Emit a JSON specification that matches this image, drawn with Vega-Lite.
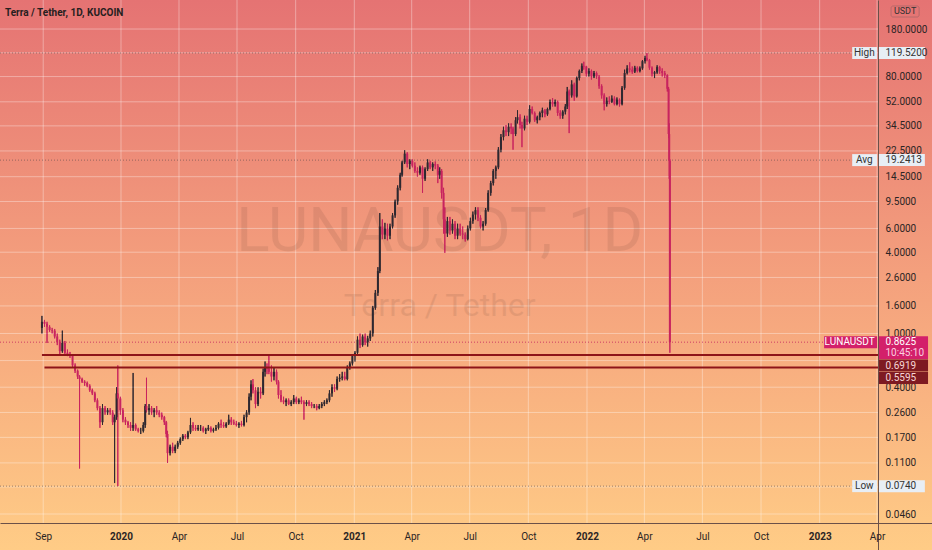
{
"$schema": "https://vega.github.io/schema/vega-lite/v6.json",
"width": 932, "height": 550, "autosize": {"type": "none"}, "padding": 0,
"background": "#f5a57e",
"view": {"stroke": null, "fill": {"gradient": "linear", "x1": 0, "y1": 0, "x2": 0, "y2": 1, "stops": [{"offset": 0, "color": "#e57373"}, {"offset": 0.5, "color": "#f4a07d"}, {"offset": 1, "color": "#ffcc86"}]}},
"config": {"font": "Roboto", "text": {"font": "Roboto"}},
"datasets": {
"candles": [
{"d":"2019-08-30","o":1.10,"h":1.35,"l":1.00,"c":1.22},
{"d":"2019-09-03","o":1.22,"h":1.26,"l":1.12,"c":1.18},
{"d":"2019-09-07","o":1.18,"h":1.22,"l":0.85,"c":1.12},
{"d":"2019-09-11","o":1.12,"h":1.15,"l":1.03,"c":1.06},
{"d":"2019-09-15","o":1.06,"h":1.10,"l":1.00,"c":1.05},
{"d":"2019-09-19","o":1.05,"h":1.08,"l":0.92,"c":0.95},
{"d":"2019-09-23","o":0.95,"h":1.00,"l":0.82,"c":0.86},
{"d":"2019-09-27","o":0.86,"h":0.90,"l":0.70,"c":0.74},
{"d":"2019-10-01","o":0.74,"h":1.05,"l":0.72,"c":0.85},
{"d":"2019-10-05","o":0.85,"h":0.88,"l":0.70,"c":0.72},
{"d":"2019-10-09","o":0.72,"h":0.76,"l":0.68,"c":0.70},
{"d":"2019-10-13","o":0.70,"h":0.73,"l":0.66,"c":0.69},
{"d":"2019-10-17","o":0.69,"h":0.70,"l":0.56,"c":0.58},
{"d":"2019-10-21","o":0.58,"h":0.60,"l":0.51,"c":0.53},
{"d":"2019-10-25","o":0.53,"h":0.54,"l":0.46,"c":0.48},
{"d":"2019-10-28","o":0.48,"h":0.49,"l":0.10,"c":0.46},
{"d":"2019-11-01","o":0.46,"h":0.47,"l":0.43,"c":0.44},
{"d":"2019-11-05","o":0.44,"h":0.45,"l":0.41,"c":0.43},
{"d":"2019-11-09","o":0.43,"h":0.44,"l":0.40,"c":0.41},
{"d":"2019-11-13","o":0.41,"h":0.42,"l":0.37,"c":0.38},
{"d":"2019-11-17","o":0.38,"h":0.39,"l":0.35,"c":0.36},
{"d":"2019-11-21","o":0.36,"h":0.37,"l":0.31,"c":0.32},
{"d":"2019-11-25","o":0.32,"h":0.33,"l":0.27,"c":0.28},
{"d":"2019-11-29","o":0.28,"h":0.29,"l":0.20,"c":0.22},
{"d":"2019-12-03","o":0.22,"h":0.30,"l":0.21,"c":0.28},
{"d":"2019-12-07","o":0.28,"h":0.29,"l":0.25,"c":0.26},
{"d":"2019-12-11","o":0.26,"h":0.28,"l":0.25,"c":0.27},
{"d":"2019-12-15","o":0.27,"h":0.28,"l":0.25,"c":0.26},
{"d":"2019-12-19","o":0.26,"h":0.27,"l":0.21,"c":0.22},
{"d":"2019-12-22","o":0.22,"h":0.25,"l":0.078,"c":0.24},
{"d":"2019-12-25","o":0.24,"h":0.40,"l":0.23,"c":0.36},
{"d":"2019-12-27","o":0.36,"h":0.58,"l":0.074,"c":0.33},
{"d":"2019-12-31","o":0.33,"h":0.34,"l":0.25,"c":0.27},
{"d":"2020-01-04","o":0.27,"h":0.28,"l":0.22,"c":0.23},
{"d":"2020-01-08","o":0.23,"h":0.24,"l":0.21,"c":0.22},
{"d":"2020-01-12","o":0.22,"h":0.225,"l":0.20,"c":0.21},
{"d":"2020-01-16","o":0.21,"h":0.22,"l":0.19,"c":0.20},
{"d":"2020-01-20","o":0.20,"h":0.51,"l":0.19,"c":0.21},
{"d":"2020-01-24","o":0.21,"h":0.215,"l":0.19,"c":0.195},
{"d":"2020-01-28","o":0.195,"h":0.20,"l":0.185,"c":0.19},
{"d":"2020-02-01","o":0.19,"h":0.20,"l":0.18,"c":0.19},
{"d":"2020-02-05","o":0.19,"h":0.22,"l":0.185,"c":0.21},
{"d":"2020-02-08","o":0.21,"h":0.30,"l":0.20,"c":0.29},
{"d":"2020-02-10","o":0.29,"h":0.47,"l":0.26,"c":0.27},
{"d":"2020-02-14","o":0.27,"h":0.30,"l":0.25,"c":0.28},
{"d":"2020-02-18","o":0.28,"h":0.29,"l":0.25,"c":0.26},
{"d":"2020-02-22","o":0.26,"h":0.28,"l":0.24,"c":0.27},
{"d":"2020-02-26","o":0.27,"h":0.29,"l":0.25,"c":0.26},
{"d":"2020-03-01","o":0.26,"h":0.27,"l":0.24,"c":0.25},
{"d":"2020-03-05","o":0.25,"h":0.26,"l":0.23,"c":0.24},
{"d":"2020-03-09","o":0.24,"h":0.245,"l":0.21,"c":0.22},
{"d":"2020-03-12","o":0.22,"h":0.225,"l":0.17,"c":0.18},
{"d":"2020-03-14","o":0.18,"h":0.19,"l":0.11,"c":0.13},
{"d":"2020-03-18","o":0.13,"h":0.15,"l":0.125,"c":0.145},
{"d":"2020-03-22","o":0.145,"h":0.155,"l":0.13,"c":0.135},
{"d":"2020-03-26","o":0.135,"h":0.15,"l":0.13,"c":0.145},
{"d":"2020-03-30","o":0.145,"h":0.16,"l":0.14,"c":0.155},
{"d":"2020-04-03","o":0.155,"h":0.17,"l":0.15,"c":0.165},
{"d":"2020-04-07","o":0.165,"h":0.18,"l":0.16,"c":0.175},
{"d":"2020-04-11","o":0.175,"h":0.18,"l":0.165,"c":0.17},
{"d":"2020-04-15","o":0.17,"h":0.19,"l":0.165,"c":0.185},
{"d":"2020-04-19","o":0.185,"h":0.237,"l":0.18,"c":0.21},
{"d":"2020-04-23","o":0.21,"h":0.22,"l":0.19,"c":0.20},
{"d":"2020-04-27","o":0.20,"h":0.21,"l":0.19,"c":0.195},
{"d":"2020-05-01","o":0.195,"h":0.21,"l":0.19,"c":0.20},
{"d":"2020-05-05","o":0.20,"h":0.21,"l":0.19,"c":0.20},
{"d":"2020-05-09","o":0.20,"h":0.205,"l":0.185,"c":0.19},
{"d":"2020-05-13","o":0.19,"h":0.20,"l":0.18,"c":0.195},
{"d":"2020-05-17","o":0.195,"h":0.21,"l":0.19,"c":0.20},
{"d":"2020-05-21","o":0.20,"h":0.205,"l":0.185,"c":0.19},
{"d":"2020-05-25","o":0.19,"h":0.20,"l":0.185,"c":0.195},
{"d":"2020-05-29","o":0.195,"h":0.21,"l":0.19,"c":0.20},
{"d":"2020-06-02","o":0.20,"h":0.22,"l":0.195,"c":0.215},
{"d":"2020-06-06","o":0.215,"h":0.23,"l":0.20,"c":0.21},
{"d":"2020-06-10","o":0.21,"h":0.22,"l":0.20,"c":0.205},
{"d":"2020-06-14","o":0.205,"h":0.22,"l":0.20,"c":0.215},
{"d":"2020-06-18","o":0.215,"h":0.25,"l":0.21,"c":0.23},
{"d":"2020-06-22","o":0.23,"h":0.24,"l":0.21,"c":0.22},
{"d":"2020-06-26","o":0.22,"h":0.23,"l":0.21,"c":0.215},
{"d":"2020-06-30","o":0.215,"h":0.225,"l":0.205,"c":0.21},
{"d":"2020-07-04","o":0.21,"h":0.22,"l":0.20,"c":0.215},
{"d":"2020-07-08","o":0.215,"h":0.225,"l":0.205,"c":0.21},
{"d":"2020-07-12","o":0.21,"h":0.25,"l":0.205,"c":0.24},
{"d":"2020-07-16","o":0.24,"h":0.27,"l":0.22,"c":0.26},
{"d":"2020-07-20","o":0.26,"h":0.36,"l":0.25,"c":0.34},
{"d":"2020-07-23","o":0.34,"h":0.45,"l":0.32,"c":0.42},
{"d":"2020-07-26","o":0.42,"h":0.46,"l":0.36,"c":0.38},
{"d":"2020-07-30","o":0.38,"h":0.40,"l":0.28,"c":0.30},
{"d":"2020-08-03","o":0.30,"h":0.40,"l":0.29,"c":0.37},
{"d":"2020-08-07","o":0.37,"h":0.40,"l":0.33,"c":0.36},
{"d":"2020-08-11","o":0.36,"h":0.55,"l":0.35,"c":0.52},
{"d":"2020-08-14","o":0.52,"h":0.62,"l":0.48,"c":0.56},
{"d":"2020-08-17","o":0.56,"h":0.60,"l":0.50,"c":0.55},
{"d":"2020-08-20","o":0.55,"h":0.70,"l":0.50,"c":0.52},
{"d":"2020-08-24","o":0.52,"h":0.58,"l":0.44,"c":0.48},
{"d":"2020-08-28","o":0.48,"h":0.56,"l":0.45,"c":0.52},
{"d":"2020-09-01","o":0.52,"h":0.54,"l":0.42,"c":0.44},
{"d":"2020-09-04","o":0.44,"h":0.45,"l":0.33,"c":0.35},
{"d":"2020-09-08","o":0.35,"h":0.38,"l":0.31,"c":0.32},
{"d":"2020-09-12","o":0.32,"h":0.34,"l":0.30,"c":0.31},
{"d":"2020-09-16","o":0.31,"h":0.33,"l":0.29,"c":0.32},
{"d":"2020-09-20","o":0.32,"h":0.33,"l":0.295,"c":0.30},
{"d":"2020-09-24","o":0.30,"h":0.32,"l":0.29,"c":0.31},
{"d":"2020-09-28","o":0.31,"h":0.35,"l":0.30,"c":0.33},
{"d":"2020-10-02","o":0.33,"h":0.34,"l":0.30,"c":0.31},
{"d":"2020-10-06","o":0.31,"h":0.33,"l":0.30,"c":0.32},
{"d":"2020-10-10","o":0.32,"h":0.34,"l":0.30,"c":0.31},
{"d":"2020-10-14","o":0.31,"h":0.32,"l":0.23,"c":0.30},
{"d":"2020-10-18","o":0.30,"h":0.32,"l":0.29,"c":0.31},
{"d":"2020-10-22","o":0.31,"h":0.32,"l":0.29,"c":0.30},
{"d":"2020-10-26","o":0.30,"h":0.31,"l":0.28,"c":0.29},
{"d":"2020-10-30","o":0.29,"h":0.30,"l":0.28,"c":0.29},
{"d":"2020-11-03","o":0.29,"h":0.30,"l":0.27,"c":0.28},
{"d":"2020-11-07","o":0.28,"h":0.30,"l":0.275,"c":0.29},
{"d":"2020-11-11","o":0.29,"h":0.31,"l":0.28,"c":0.30},
{"d":"2020-11-15","o":0.30,"h":0.32,"l":0.29,"c":0.31},
{"d":"2020-11-19","o":0.31,"h":0.33,"l":0.30,"c":0.32},
{"d":"2020-11-23","o":0.32,"h":0.38,"l":0.31,"c":0.36},
{"d":"2020-11-27","o":0.36,"h":0.42,"l":0.34,"c":0.40},
{"d":"2020-12-01","o":0.40,"h":0.42,"l":0.37,"c":0.39},
{"d":"2020-12-05","o":0.39,"h":0.48,"l":0.38,"c":0.46},
{"d":"2020-12-09","o":0.46,"h":0.50,"l":0.44,"c":0.47},
{"d":"2020-12-13","o":0.47,"h":0.52,"l":0.45,"c":0.48},
{"d":"2020-12-17","o":0.48,"h":0.52,"l":0.45,"c":0.46},
{"d":"2020-12-21","o":0.46,"h":0.58,"l":0.45,"c":0.56},
{"d":"2020-12-25","o":0.56,"h":0.62,"l":0.54,"c":0.60},
{"d":"2020-12-29","o":0.60,"h":0.70,"l":0.58,"c":0.68},
{"d":"2021-01-02","o":0.68,"h":0.74,"l":0.62,"c":0.72},
{"d":"2021-01-06","o":0.72,"h":0.95,"l":0.70,"c":0.90},
{"d":"2021-01-10","o":0.90,"h":1.00,"l":0.78,"c":0.82},
{"d":"2021-01-14","o":0.82,"h":0.98,"l":0.80,"c":0.95},
{"d":"2021-01-18","o":0.95,"h":1.00,"l":0.82,"c":0.86},
{"d":"2021-01-22","o":0.86,"h":0.96,"l":0.80,"c":0.92},
{"d":"2021-01-26","o":0.92,"h":1.05,"l":0.88,"c":1.00},
{"d":"2021-01-30","o":1.00,"h":1.60,"l":0.95,"c":1.55},
{"d":"2021-02-03","o":1.55,"h":2.10,"l":1.50,"c":2.00},
{"d":"2021-02-07","o":2.00,"h":3.10,"l":1.90,"c":2.90},
{"d":"2021-02-10","o":2.90,"h":7.80,"l":2.80,"c":6.20},
{"d":"2021-02-14","o":6.20,"h":7.00,"l":5.00,"c":5.40},
{"d":"2021-02-18","o":5.40,"h":6.60,"l":5.00,"c":6.00},
{"d":"2021-02-22","o":6.00,"h":6.50,"l":4.90,"c":5.30},
{"d":"2021-02-26","o":5.30,"h":6.50,"l":5.00,"c":6.20},
{"d":"2021-03-02","o":6.20,"h":7.80,"l":6.00,"c":7.50},
{"d":"2021-03-06","o":7.50,"h":9.80,"l":7.20,"c":9.50},
{"d":"2021-03-10","o":9.50,"h":12.50,"l":9.00,"c":12.00},
{"d":"2021-03-14","o":12.00,"h":15.50,"l":11.50,"c":15.00},
{"d":"2021-03-17","o":15.00,"h":19.00,"l":14.50,"c":18.50},
{"d":"2021-03-21","o":18.50,"h":22.80,"l":18.00,"c":21.50},
{"d":"2021-03-25","o":21.50,"h":22.00,"l":17.00,"c":18.00},
{"d":"2021-03-29","o":18.00,"h":19.50,"l":16.50,"c":19.00},
{"d":"2021-04-02","o":19.00,"h":19.50,"l":17.00,"c":17.50},
{"d":"2021-04-06","o":17.50,"h":18.50,"l":15.50,"c":16.00},
{"d":"2021-04-10","o":16.00,"h":17.00,"l":14.50,"c":15.50},
{"d":"2021-04-14","o":15.50,"h":17.50,"l":15.00,"c":17.00},
{"d":"2021-04-18","o":17.00,"h":17.50,"l":11.00,"c":14.00},
{"d":"2021-04-22","o":14.00,"h":17.00,"l":13.50,"c":16.50},
{"d":"2021-04-26","o":16.50,"h":19.50,"l":16.00,"c":18.50},
{"d":"2021-04-30","o":18.50,"h":19.00,"l":16.50,"c":17.00},
{"d":"2021-05-04","o":17.00,"h":18.50,"l":16.00,"c":18.00},
{"d":"2021-05-08","o":18.00,"h":18.80,"l":16.50,"c":17.50},
{"d":"2021-05-12","o":17.50,"h":18.00,"l":13.00,"c":15.00},
{"d":"2021-05-15","o":15.00,"h":17.00,"l":14.00,"c":16.00},
{"d":"2021-05-18","o":16.00,"h":16.50,"l":10.00,"c":11.00},
{"d":"2021-05-21","o":11.00,"h":12.00,"l":5.50,"c":7.00},
{"d":"2021-05-23","o":7.00,"h":8.60,"l":3.95,"c":5.50},
{"d":"2021-05-27","o":5.50,"h":7.30,"l":5.20,"c":6.80},
{"d":"2021-05-31","o":6.80,"h":7.30,"l":5.40,"c":5.80},
{"d":"2021-06-04","o":5.80,"h":7.00,"l":5.50,"c":6.50},
{"d":"2021-06-08","o":6.50,"h":6.80,"l":5.00,"c":5.30},
{"d":"2021-06-12","o":5.30,"h":6.50,"l":5.00,"c":6.00},
{"d":"2021-06-16","o":6.00,"h":6.50,"l":5.30,"c":5.50},
{"d":"2021-06-20","o":5.50,"h":6.20,"l":5.00,"c":5.40},
{"d":"2021-06-24","o":5.40,"h":5.60,"l":4.80,"c":5.00},
{"d":"2021-06-28","o":5.00,"h":6.30,"l":4.90,"c":6.00},
{"d":"2021-07-02","o":6.00,"h":7.20,"l":5.80,"c":6.80},
{"d":"2021-07-06","o":6.80,"h":8.00,"l":6.50,"c":7.60},
{"d":"2021-07-10","o":7.60,"h":8.60,"l":7.00,"c":8.20},
{"d":"2021-07-14","o":8.20,"h":8.60,"l":6.80,"c":7.20},
{"d":"2021-07-18","o":7.20,"h":7.50,"l":6.00,"c":6.20},
{"d":"2021-07-22","o":6.20,"h":6.80,"l":5.80,"c":6.50},
{"d":"2021-07-26","o":6.50,"h":8.50,"l":6.30,"c":8.20},
{"d":"2021-07-30","o":8.20,"h":11.50,"l":8.00,"c":11.00},
{"d":"2021-08-03","o":11.00,"h":13.50,"l":10.50,"c":13.00},
{"d":"2021-08-07","o":13.00,"h":16.50,"l":12.50,"c":16.00},
{"d":"2021-08-11","o":16.00,"h":17.50,"l":14.00,"c":17.00},
{"d":"2021-08-15","o":17.00,"h":24.00,"l":16.50,"c":23.00},
{"d":"2021-08-19","o":23.00,"h":30.00,"l":22.00,"c":28.50},
{"d":"2021-08-23","o":28.50,"h":34.00,"l":27.00,"c":32.00},
{"d":"2021-08-27","o":32.00,"h":35.00,"l":29.00,"c":31.00},
{"d":"2021-08-31","o":31.00,"h":36.00,"l":29.00,"c":34.00},
{"d":"2021-09-04","o":34.00,"h":36.00,"l":30.00,"c":33.00},
{"d":"2021-09-07","o":33.00,"h":34.00,"l":23.00,"c":30.00},
{"d":"2021-09-11","o":30.00,"h":40.00,"l":29.00,"c":38.00},
{"d":"2021-09-14","o":38.00,"h":45.00,"l":36.00,"c":40.00},
{"d":"2021-09-18","o":40.00,"h":42.00,"l":33.00,"c":35.00},
{"d":"2021-09-21","o":35.00,"h":37.00,"l":24.00,"c":33.00},
{"d":"2021-09-25","o":33.00,"h":41.00,"l":32.00,"c":39.00},
{"d":"2021-09-29","o":39.00,"h":41.00,"l":35.00,"c":37.00},
{"d":"2021-10-03","o":37.00,"h":49.00,"l":36.00,"c":46.00},
{"d":"2021-10-07","o":46.00,"h":48.00,"l":42.00,"c":43.00},
{"d":"2021-10-11","o":43.00,"h":44.00,"l":37.00,"c":38.00},
{"d":"2021-10-15","o":38.00,"h":41.00,"l":36.00,"c":40.00},
{"d":"2021-10-19","o":40.00,"h":44.00,"l":38.00,"c":43.00},
{"d":"2021-10-23","o":43.00,"h":47.00,"l":40.00,"c":45.00},
{"d":"2021-10-27","o":45.00,"h":46.00,"l":40.00,"c":42.00},
{"d":"2021-10-31","o":42.00,"h":47.00,"l":41.00,"c":46.00},
{"d":"2021-11-04","o":46.00,"h":54.00,"l":45.00,"c":52.00},
{"d":"2021-11-08","o":52.00,"h":55.50,"l":48.00,"c":50.00},
{"d":"2021-11-12","o":50.00,"h":54.00,"l":48.00,"c":52.00},
{"d":"2021-11-16","o":52.00,"h":53.00,"l":41.00,"c":43.00},
{"d":"2021-11-20","o":43.00,"h":45.00,"l":39.00,"c":41.00},
{"d":"2021-11-24","o":41.00,"h":45.00,"l":39.00,"c":44.00},
{"d":"2021-11-28","o":44.00,"h":50.00,"l":42.00,"c":48.00},
{"d":"2021-12-01","o":48.00,"h":67.00,"l":46.00,"c":62.00},
{"d":"2021-12-04","o":62.00,"h":64.00,"l":30.50,"c":58.00},
{"d":"2021-12-08","o":58.00,"h":75.00,"l":56.00,"c":70.00},
{"d":"2021-12-12","o":70.00,"h":72.00,"l":53.00,"c":57.00},
{"d":"2021-12-16","o":57.00,"h":80.00,"l":56.00,"c":78.00},
{"d":"2021-12-20","o":78.00,"h":90.00,"l":75.00,"c":88.00},
{"d":"2021-12-24","o":88.00,"h":100.00,"l":85.00,"c":96.00},
{"d":"2021-12-27","o":96.00,"h":103.00,"l":90.00,"c":95.00},
{"d":"2021-12-31","o":95.00,"h":96.00,"l":80.00,"c":84.00},
{"d":"2022-01-04","o":84,"h":92,"l":80,"c":88},
{"d":"2022-01-08","o":88,"h":90,"l":76,"c":80},
{"d":"2022-01-12","o":80,"h":88,"l":78,"c":85},
{"d":"2022-01-16","o":85,"h":87,"l":77,"c":80},
{"d":"2022-01-20","o":80,"h":82,"l":65,"c":68},
{"d":"2022-01-24","o":68,"h":70,"l":55,"c":58},
{"d":"2022-01-28","o":58,"h":60,"l":45,"c":50},
{"d":"2022-02-01","o":50,"h":56,"l":48,"c":53},
{"d":"2022-02-05","o":53,"h":57,"l":50,"c":52},
{"d":"2022-02-09","o":52,"h":58,"l":51,"c":55},
{"d":"2022-02-13","o":55,"h":57,"l":49,"c":50},
{"d":"2022-02-17","o":50,"h":56,"l":49,"c":54},
{"d":"2022-02-21","o":54,"h":55,"l":48,"c":50},
{"d":"2022-02-25","o":50,"h":68,"l":49,"c":66},
{"d":"2022-03-01","o":66,"h":90,"l":64,"c":85},
{"d":"2022-03-05","o":85,"h":97,"l":83,"c":92},
{"d":"2022-03-09","o":92,"h":102,"l":86,"c":90},
{"d":"2022-03-13","o":90,"h":95,"l":84,"c":87},
{"d":"2022-03-17","o":87,"h":96,"l":85,"c":93},
{"d":"2022-03-21","o":93,"h":95,"l":86,"c":88},
{"d":"2022-03-25","o":88,"h":95,"l":86,"c":92},
{"d":"2022-03-29","o":92,"h":106,"l":90,"c":104},
{"d":"2022-04-02","o":104,"h":114,"l":100,"c":110},
{"d":"2022-04-05","o":110,"h":119.52,"l":104,"c":106},
{"d":"2022-04-09","o":106,"h":108,"l":90,"c":93},
{"d":"2022-04-13","o":93,"h":95,"l":80,"c":84},
{"d":"2022-04-17","o":84,"h":88,"l":78,"c":86},
{"d":"2022-04-21","o":86,"h":97,"l":84,"c":94},
{"d":"2022-04-25","o":94,"h":96,"l":84,"c":88},
{"d":"2022-04-29","o":88,"h":92,"l":80,"c":85},
{"d":"2022-05-03","o":85,"h":88,"l":78,"c":82},
{"d":"2022-05-07","o":82,"h":83,"l":62,"c":65},
{"d":"2022-05-09","o":65,"h":67,"l":28,"c":30},
{"d":"2022-05-10","o":30,"h":36,"l":14,"c":19},
{"d":"2022-05-11","o":19,"h":19.5,"l":0.72,"c":0.8625}
],
"gridy": [{"v":180},{"v":120},{"v":80},{"v":52},{"v":34.5},{"v":22.5},{"v":14.5},{"v":9.5},{"v":6},{"v":4},{"v":2.6},{"v":1.6},{"v":1},{"v":0.63},{"v":0.4},{"v":0.26},{"v":0.17},{"v":0.11},{"v":0.073},{"v":0.046}],
"gridx": [{"d":"2019-09-01"},{"d":"2020-01-01"},{"d":"2020-04-01"},{"d":"2020-07-01"},{"d":"2020-10-01"},{"d":"2021-01-01"},{"d":"2021-04-01"},{"d":"2021-07-01"},{"d":"2021-10-01"},{"d":"2022-01-01"},{"d":"2022-04-01"},{"d":"2022-07-01"},{"d":"2022-10-01"},{"d":"2023-01-01"},{"d":"2023-04-01"}],
"stats": [{"lab":"High","v":119.52,"txt":"119.5200"},{"lab":"Avg","v":19.2413,"txt":"19.2413"},{"lab":"Low","v":0.074,"txt":"0.0740"}],
"last": [{"lab":"LUNAUSDT","v":0.8625,"txt":"0.8625","cd":"10:45:10"}],
"levels": [{"v":0.6919,"start":"2019-08-30","txt":"0.6919"},{"v":0.5595,"start":"2019-09-03","txt":"0.5595"}]
},
"layer": [
{"data":{"name":"candles"},"mark":{"type":"rule","strokeWidth":1},
 "encoding":{
  "x":{"field":"d","type":"temporal","scale":{"type":"utc","domain":[{"year":2019,"month":6,"date":25,"hours":5,"utc":true},{"year":2023,"month":6,"date":26,"hours":5,"utc":true}],"nice":false,"padding":0},
   "axis":{"title":null,"zindex":1,"values":[{"year":2019,"month":9,"date":1,"utc":true},{"year":2020,"month":1,"date":1,"utc":true},{"year":2020,"month":4,"date":1,"utc":true},{"year":2020,"month":7,"date":1,"utc":true},{"year":2020,"month":10,"date":1,"utc":true},{"year":2021,"month":1,"date":1,"utc":true},{"year":2021,"month":4,"date":1,"utc":true},{"year":2021,"month":7,"date":1,"utc":true},{"year":2021,"month":10,"date":1,"utc":true},{"year":2022,"month":1,"date":1,"utc":true},{"year":2022,"month":4,"date":1,"utc":true},{"year":2022,"month":7,"date":1,"utc":true},{"year":2022,"month":10,"date":1,"utc":true},{"year":2023,"month":1,"date":1,"utc":true},{"year":2023,"month":4,"date":1,"utc":true}],
   "labelExpr":"utcmonth(datum.value) == 0 ? utcFormat(datum.value, '%Y') : utcFormat(datum.value, '%b')",
   "labelFontWeight":{"condition":{"test":"utcmonth(datum.value) == 0","value":"bold"},"value":"normal"},
   "grid":false,"ticks":false,"domain":true,"domainColor":"#6b5048","domainWidth":1,"offset":-27,"labelPadding":8,"labelFontSize":10,"labelColor":"#2b2424","labelFlush":false,"labelOverlap":false,"labelBound":false}},
  "y":{"field":"l","type":"quantitative","scale":{"type":"log","domain":[0.0249,295.3],"nice":false,"zero":false,"padding":0},
   "axis":{"title":null,"zindex":0,"orient":"right","values":[180,80,52,34.5,22.5,14.5,9.5,6,4,2.6,1.6,1,0.4,0.26,0.17,0.11,0.046],"format":".4f","grid":false,"ticks":false,"domain":true,"domainColor":"#6b5048","domainWidth":1,"offset":-54,"labelPadding":7,"labelAlign":"left","labelBaseline":"middle","labelFontSize":10,"labelColor":"#2b2424","labelFlush":false,"labelOverlap":false,"labelBound":false}},
  "y2":{"field":"h"},
  "color":{"condition":{"test":"datum.c >= datum.o","value":"#2e2830"},"value":"#c8245f"}}},
{"data":{"name":"gridy"},"mark":{"type":"rule","color":"#ffffff","opacity":0.35,"strokeWidth":1},
 "encoding":{"y":{"field":"v","type":"quantitative","scale":{"type":"log"}},
 "x":{"datum":{"year":2019,"month":6,"date":25,"hours":5,"utc":true},"type":"temporal","scale":{"type":"utc"}},
 "x2":{"datum":{"year":2023,"month":4,"date":2,"hours":12,"utc":true}}}},
{"data":{"name":"gridx"},"mark":{"type":"rule","color":"#ffffff","opacity":0.35,"strokeWidth":1},
 "encoding":{"x":{"field":"d","type":"temporal","scale":{"type":"utc"}},
 "y":{"datum":295.3,"type":"quantitative","scale":{"type":"log"}},"y2":{"datum":0.0395}}},
{"data":{"values":[{"t":"LUNAUSDT, 1D"}]},"mark":{"type":"text","fontSize":62,"color":"#000000","opacity":0.07,"align":"center","baseline":"middle"},
 "encoding":{"text":{"field":"t"},"x":{"datum":{"year":2021,"month":5,"date":15,"utc":true},"type":"temporal","scale":{"type":"utc"}},"y":{"datum":5.65,"type":"quantitative","scale":{"type":"log"}}}},
{"data":{"values":[{"t":"Terra / Tether"}]},"mark":{"type":"text","fontSize":32,"color":"#000000","opacity":0.07,"align":"center","baseline":"middle"},
 "encoding":{"text":{"field":"t"},"x":{"datum":{"year":2021,"month":5,"date":15,"utc":true},"type":"temporal","scale":{"type":"utc"}},"y":{"datum":1.6,"type":"quantitative","scale":{"type":"log"}}}},
{"data":{"name":"stats"},"mark":{"type":"rule","color":"#5a4a4a","opacity":0.6,"strokeWidth":1,"strokeDash":[1,2]},
 "encoding":{"y":{"field":"v","type":"quantitative","scale":{"type":"log"}},
 "x":{"datum":{"year":2019,"month":6,"date":25,"hours":5,"utc":true},"type":"temporal","scale":{"type":"utc"}},
 "x2":{"datum":{"year":2023,"month":4,"date":2,"hours":12,"utc":true}}}},
{"data":{"name":"last"},"mark":{"type":"rule","color":"#c2185b","opacity":0.75,"strokeWidth":1,"strokeDash":[1,2]},
 "encoding":{"y":{"field":"v","type":"quantitative","scale":{"type":"log"}},
 "x":{"datum":{"year":2019,"month":6,"date":25,"hours":5,"utc":true},"type":"temporal","scale":{"type":"utc"}},
 "x2":{"datum":{"year":2023,"month":4,"date":2,"hours":12,"utc":true}}}},
{"data":{"name":"candles"},"mark":{"type":"rule","strokeWidth":1},
 "encoding":{"x":{"field":"d","type":"temporal","scale":{"type":"utc"}},
  "y":{"field":"l","type":"quantitative","scale":{"type":"log"}},"y2":{"field":"h"},
  "color":{"condition":{"test":"datum.c >= datum.o","value":"#2e2830"},"value":"#c8245f"}}},
{"data":{"name":"candles"},"mark":{"type":"bar","size":2},
 "encoding":{"x":{"field":"d","type":"temporal","scale":{"type":"utc"}},
  "y":{"field":"o","type":"quantitative","scale":{"type":"log"}},"y2":{"field":"c"},
  "color":{"condition":{"test":"datum.c >= datum.o","value":"#2e2830"},"value":"#c8245f"}}},
{"data":{"name":"levels"},"mark":{"type":"rule","color":"#8e1418","strokeWidth":2},
 "encoding":{"y":{"field":"v","type":"quantitative","scale":{"type":"log"}},
 "x":{"field":"start","type":"temporal","scale":{"type":"utc"}},
 "x2":{"datum":{"year":2023,"month":4,"date":2,"hours":12,"utc":true}}}},
{"data":{"name":"stats"},"mark":{"type":"rect","fill":"#e8eef5","yOffset":-6,"y2Offset":6},
 "encoding":{"y":{"field":"v","type":"quantitative","scale":{"type":"log"}},"y2":{"field":"v"},
 "x":{"datum":{"year":2023,"month":2,"date":21,"utc":true},"type":"temporal","scale":{"type":"utc"}},
 "x2":{"datum":{"year":2023,"month":4,"date":1,"utc":true}}}},
{"data":{"name":"stats"},"mark":{"type":"text","fontSize":10,"color":"#333333","align":"center","baseline":"middle"},
 "encoding":{"text":{"field":"lab"},"y":{"field":"v","type":"quantitative","scale":{"type":"log"}},
 "x":{"datum":{"year":2023,"month":3,"date":12,"utc":true},"type":"temporal","scale":{"type":"utc"}}}},
{"data":{"name":"stats"},"mark":{"type":"rect","fill":"#e8eef5","yOffset":-6,"y2Offset":6},
 "encoding":{"y":{"field":"v","type":"quantitative","scale":{"type":"log"}},"y2":{"field":"v"},
 "x":{"datum":{"year":2023,"month":4,"date":4,"utc":true},"type":"temporal","scale":{"type":"utc"}},
 "x2":{"datum":{"year":2023,"month":6,"date":15,"utc":true}}}},
{"data":{"name":"stats"},"mark":{"type":"text","fontSize":10,"color":"#333333","align":"left","baseline":"middle"},
 "encoding":{"text":{"field":"txt"},"y":{"field":"v","type":"quantitative","scale":{"type":"log"}},
 "x":{"datum":{"year":2023,"month":4,"date":14,"hours":5,"utc":true},"type":"temporal","scale":{"type":"utc"}}}},
{"data":{"name":"last"},"mark":{"type":"rect","fill":"#d3206a","yOffset":-6,"y2Offset":6},
 "encoding":{"y":{"field":"v","type":"quantitative","scale":{"type":"log"}},"y2":{"field":"v"},
 "x":{"datum":{"year":2023,"month":1,"date":8,"utc":true},"type":"temporal","scale":{"type":"utc"}},
 "x2":{"datum":{"year":2023,"month":4,"date":1,"utc":true}}}},
{"data":{"name":"last"},"mark":{"type":"text","fontSize":10,"color":"#ffffff","align":"center","baseline":"middle"},
 "encoding":{"text":{"field":"lab"},"y":{"field":"v","type":"quantitative","scale":{"type":"log"}},
 "x":{"datum":{"year":2023,"month":2,"date":17,"utc":true},"type":"temporal","scale":{"type":"utc"}}}},
{"data":{"name":"last"},"mark":{"type":"rect","fill":"#d3206a","yOffset":-6,"y2Offset":17},
 "encoding":{"y":{"field":"v","type":"quantitative","scale":{"type":"log"}},"y2":{"field":"v"},
 "x":{"datum":{"year":2023,"month":4,"date":4,"utc":true},"type":"temporal","scale":{"type":"utc"}},
 "x2":{"datum":{"year":2023,"month":6,"date":20,"utc":true}}}},
{"data":{"name":"last"},"mark":{"type":"text","fontSize":10,"color":"#ffffff","align":"left","baseline":"middle"},
 "encoding":{"text":{"field":"txt"},"y":{"field":"v","type":"quantitative","scale":{"type":"log"}},
 "x":{"datum":{"year":2023,"month":4,"date":14,"hours":5,"utc":true},"type":"temporal","scale":{"type":"utc"}}}},
{"data":{"name":"last"},"mark":{"type":"text","fontSize":10,"color":"#fbd0e0","align":"left","baseline":"middle","dy":10.5},
 "encoding":{"text":{"field":"cd"},"y":{"field":"v","type":"quantitative","scale":{"type":"log"}},
 "x":{"datum":{"year":2023,"month":4,"date":14,"hours":5,"utc":true},"type":"temporal","scale":{"type":"utc"}}}},
{"data":{"name":"levels"},"mark":{"type":"rect","fill":"#7e1a22","yOffset":4.5,"y2Offset":16.5},
 "encoding":{"y":{"field":"v","type":"quantitative","scale":{"type":"log"}},"y2":{"field":"v"},
 "x":{"datum":{"year":2023,"month":4,"date":4,"utc":true},"type":"temporal","scale":{"type":"utc"}},
 "x2":{"datum":{"year":2023,"month":6,"date":20,"utc":true}}}},
{"data":{"name":"levels"},"mark":{"type":"text","fontSize":10,"color":"#f6d6d6","align":"left","baseline":"middle","dy":10.5},
 "encoding":{"text":{"field":"txt"},"y":{"field":"v","type":"quantitative","scale":{"type":"log"}},
 "x":{"datum":{"year":2023,"month":4,"date":14,"hours":5,"utc":true},"type":"temporal","scale":{"type":"utc"}}}},
{"data":{"values":[{"t":"Terra / Tether, 1D, KUCOIN"}]},"mark":{"type":"text","fontSize":10,"fontWeight":"bold","color":"#262020","align":"left","baseline":"middle"},
 "encoding":{"text":{"field":"t"},"x":{"datum":{"year":2019,"month":7,"date":3,"utc":true},"type":"temporal","scale":{"type":"utc"}},"y":{"datum":236.7,"type":"quantitative","scale":{"type":"log"}}}},
{"data":{"values":[{"t":"USDT"}]},"mark":{"type":"rect","fill":null,"stroke":"#b86a6a","strokeWidth":1,"cornerRadius":2},
 "encoding":{"x":{"datum":{"year":2023,"month":4,"date":23,"utc":true},"type":"temporal","scale":{"type":"utc"}},"x2":{"datum":{"year":2023,"month":6,"date":6,"utc":true}},
 "y":{"datum":266.7,"type":"quantitative","scale":{"type":"log"}},"y2":{"datum":220.9}}},
{"data":{"values":[{"t":"USDT"}]},"mark":{"type":"text","fontSize":9,"color":"#333333","align":"center","baseline":"middle"},
 "encoding":{"text":{"field":"t"},"x":{"datum":{"year":2023,"month":5,"date":15,"utc":true},"type":"temporal","scale":{"type":"utc"}},"y":{"datum":242.8,"type":"quantitative","scale":{"type":"log"}}}}
]
}
